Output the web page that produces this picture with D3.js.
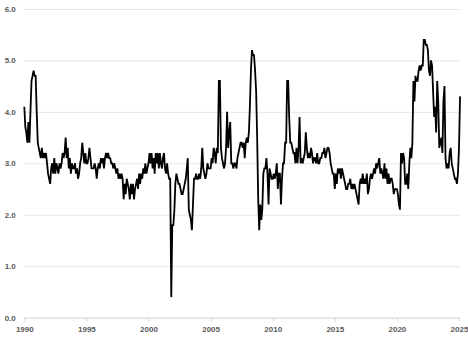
<!DOCTYPE html>
<html>
<head>
<meta charset="utf-8">
<script src="https://cdn.jsdelivr.net/npm/d3@7"></script>
<style>
  html, body { margin: 0; padding: 0; background: #fff; }
  .tick text { font-family: "Liberation Sans", Arial, sans-serif; font-weight: bold; font-size: 8px; }
</style>
</head>
<body>
<div id="chart"></div>
<script>
// monthly values, Jan 1990 .. Feb 2025
const startYear = 1990;
const values = [
  4.1, 3.7, 3.6, 3.4, 3.8, 3.4, 4.0, 4.6, 4.7, 4.8, 4.7, 4.7, // 1990
  4.0, 3.4, 3.3, 3.2, 3.1, 3.3, 3.1, 3.2, 3.1, 3.2, 3.0, 2.8, // 1991
  2.7, 2.6, 2.9, 3.0, 2.8, 3.1, 2.8, 3.0, 2.9, 2.8, 3.0, 2.9, // 1992
  3.0, 3.2, 3.1, 3.2, 3.5, 3.1, 3.3, 2.9, 3.1, 2.8, 3.0, 2.9, // 1993
  2.9, 3.0, 2.8, 2.9, 2.7, 2.8, 3.0, 3.1, 3.4, 3.2, 3.0, 3.2, // 1994
  3.0, 3.0, 3.1, 3.3, 3.1, 2.9, 2.9, 2.9, 3.0, 2.9, 2.7, 2.9, // 1995
  3.0, 2.9, 3.1, 3.0, 3.1, 2.9, 3.1, 3.2, 3.1, 3.2, 3.1, 3.1, // 1996
  3.0, 3.0, 2.9, 3.0, 2.9, 2.8, 2.9, 2.7, 2.8, 2.7, 2.8, 2.7, // 1997
  2.3, 2.6, 2.4, 2.7, 2.6, 2.5, 2.3, 2.6, 2.4, 2.6, 2.3, 2.5, // 1998
  2.6, 2.7, 2.5, 2.8, 2.6, 2.8, 2.7, 2.9, 2.8, 3.0, 2.8, 2.9, // 1999
  3.0, 3.2, 3.0, 3.2, 2.9, 3.1, 2.8, 3.2, 3.0, 3.2, 2.9, 3.2, // 2000
  3.0, 2.9, 3.1, 3.2, 2.9, 2.8, 3.0, 2.8, 2.7, 2.7, 0.4, 1.8, // 2001
  1.8, 2.1, 2.6, 2.8, 2.7, 2.6, 2.6, 2.5, 2.4, 2.4, 2.5, 2.6, // 2002
  2.7, 2.9, 3.1, 2.1, 2.0, 1.9, 1.7, 2.2, 2.7, 2.7, 2.8, 2.7, // 2003
  2.7, 2.8, 2.7, 2.9, 3.3, 2.9, 2.8, 2.7, 2.8, 3.0, 2.9, 2.9, // 2004
  2.9, 3.1, 3.0, 3.3, 3.2, 3.0, 3.3, 3.2, 4.6, 4.6, 3.3, 3.1, // 2005
  3.0, 2.9, 3.0, 3.3, 4.0, 3.3, 3.6, 3.8, 3.0, 3.0, 2.9, 3.0, // 2006
  3.0, 2.9, 3.1, 3.2, 3.3, 3.4, 3.4, 3.3, 3.4, 3.1, 3.4, 3.5, // 2007
  3.4, 3.6, 4.1, 4.8, 5.2, 5.1, 5.1, 4.8, 4.4, 3.5, 2.3, 1.7, // 2008
  2.2, 1.9, 2.1, 2.8, 2.9, 2.9, 3.1, 2.8, 2.2, 2.9, 2.8, 2.7, // 2009
  2.7, 2.8, 2.7, 2.8, 3.0, 2.5, 2.8, 2.8, 2.2, 2.7, 3.0, 3.0, // 2010
  3.4, 3.4, 4.6, 4.6, 3.9, 3.4, 3.4, 3.3, 3.2, 3.2, 3.0, 3.3, // 2011
  3.0, 3.3, 3.9, 3.0, 3.1, 3.0, 3.1, 3.2, 3.6, 3.3, 3.1, 3.2, // 2012
  3.1, 3.3, 3.2, 3.0, 3.1, 3.1, 3.0, 3.2, 3.0, 3.0, 3.1, 3.1, // 2013
  3.2, 3.2, 3.3, 3.1, 3.2, 3.3, 3.3, 3.2, 3.0, 2.9, 2.8, 2.8, // 2014
  2.5, 2.8, 2.6, 2.9, 2.8, 2.9, 2.7, 2.9, 2.8, 2.7, 2.6, 2.5, // 2015
  2.5, 2.6, 2.6, 2.7, 2.5, 2.6, 2.5, 2.6, 2.5, 2.4, 2.3, 2.2, // 2016
  2.6, 2.7, 2.6, 2.8, 2.6, 2.7, 2.6, 2.8, 2.4, 2.5, 2.7, 2.8, // 2017
  2.7, 2.8, 2.9, 2.8, 3.0, 2.9, 3.0, 3.1, 2.8, 2.9, 2.8, 2.7, // 2018
  3.0, 2.7, 2.9, 2.6, 2.8, 2.6, 2.7, 2.7, 2.6, 2.4, 2.5, 2.5, // 2019
  2.5, 2.4, 2.2, 2.1, 3.2, 3.0, 3.2, 3.1, 2.6, 2.6, 2.8, 2.5, // 2020
  3.0, 3.3, 3.1, 3.4, 4.6, 4.2, 4.7, 4.6, 4.6, 4.8, 4.9, 4.8, // 2021
  4.9, 4.9, 5.4, 5.4, 5.3, 5.3, 5.2, 4.8, 4.7, 5.0, 4.9, 4.4, // 2022
  3.9, 4.1, 3.6, 4.6, 4.2, 3.3, 3.4, 3.5, 3.2, 4.2, 4.5, 3.1, // 2023
  2.9, 3.0, 2.9, 3.2, 3.3, 3.0, 2.9, 2.8, 2.7, 2.7, 2.6, 2.8, // 2024
  3.3, 4.3                                                    // 2025
];

const xTickYears = [1990, 1995, 2000, 2005, 2010, 2015, 2020, 2025];
const yTickValues = [0, 1, 2, 3, 4, 5, 6];

document.addEventListener('DOMContentLoaded', () => {
  const width = 468;
  const height = 339;
  const left = 24.3;
  const right = 459;
  const top = 8.9;
  const bottom = 317.7;

  const dates = values.map((v, i) => new Date(startYear, i, 1));

  const svg = d3.select('#chart')
                .append('svg')
                .attr('width', width)
                .attr('height', height);

  const xScale = d3.scaleTime()
                   .domain([new Date(xTickYears[0], 0, 1), new Date(xTickYears[xTickYears.length - 1], 0, 1)])
                   .range([left, right]);

  const yScale = d3.scaleLinear()
                   .domain([0, 6])
                   .range([bottom, top]);

  // gridlines + y labels
  const yAxis = d3.axisLeft(yScale)
                  .tickValues(yTickValues)
                  .tickSize(-(right + 1 - left))
                  .tickPadding(8.5)
                  .tickFormat(d3.format('.1f'));

  svg.append('g')
     .attr('transform', 'translate(' + left + ', 0)')
     .call(yAxis)
     .call(g => g.select('.domain').remove())
     .call(g => g.selectAll('.tick line').attr('stroke', '#e6e6e6').attr('stroke-width', 1))
     .call(g => g.selectAll('.tick text').attr('fill', '#595959'));

  const xAxis = d3.axisBottom(xScale)
                  .tickValues(xTickYears.map(y => new Date(y, 0, 1)))
                  .tickSize(4)
                  .tickPadding(5)
                  .tickFormat(d3.timeFormat('%Y'));

  svg.append('g')
     .attr('transform', 'translate(0, ' + bottom + ')')
     .call(xAxis)
     .call(g => g.select('.domain').attr('stroke', '#d9d9d9').attr('d', 'M' + left + ',0.5H' + (right + 1)))
     .call(g => g.selectAll('.tick line').attr('stroke', '#d9d9d9'))
     .call(g => g.selectAll('.tick text').attr('fill', '#595959'));

  const line = d3.line()
                 .x((d, i) => xScale(dates[i]))
                 .y(d => yScale(d));

  svg.append('path')
     .datum(values)
     .attr('fill', 'none')
     .attr('stroke', '#000')
     .attr('stroke-width', 1.8)
     .attr('d', line);
});
</script>
</body>
</html>
